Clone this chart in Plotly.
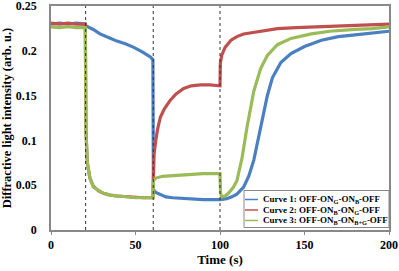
import plotly.graph_objects as go

# ---------------- data ----------------
event_times = [20.5, 60.5, 100]

t1 = [0, 5, 10, 15, 20.3, 20.7, 25, 29, 34, 39, 44, 49, 54, 59, 60.3, 60.6, 62, 65, 68, 72, 80, 90, 100,
      104, 107, 110, 114, 117, 120, 123, 125, 128, 131, 136, 142, 150, 160, 170, 180, 190, 200]
v1 = [0.230, 0.231, 0.230, 0.231, 0.230, 0.228, 0.224, 0.219, 0.215, 0.211, 0.208, 0.204, 0.199, 0.193, 0.190, 0.045, 0.042, 0.039, 0.037, 0.036, 0.035, 0.034, 0.034,
      0.035, 0.037, 0.040, 0.048, 0.060, 0.078, 0.105, 0.125, 0.150, 0.170, 0.187, 0.197, 0.205, 0.212, 0.216, 0.218, 0.220, 0.222]

t2 = [0, 5, 10, 15, 20.3, 20.7, 21.5, 23, 25, 28, 31, 35, 39, 45, 50, 55, 60.3, 60.6, 61, 62, 63, 64.7, 67, 70.6, 74, 78.5, 83, 88.5, 94, 100,
      100.2, 101, 103, 106.5, 110, 114, 120, 127, 134, 145, 160, 175, 190, 200]
v2 = [0.231, 0.230, 0.231, 0.230, 0.230, 0.110, 0.075, 0.058, 0.049, 0.044, 0.041, 0.039, 0.038, 0.037, 0.036, 0.036, 0.036, 0.060, 0.085, 0.100, 0.112, 0.126, 0.135, 0.145, 0.152, 0.158, 0.161, 0.162, 0.162, 0.161,
      0.186, 0.195, 0.204, 0.212, 0.216, 0.219, 0.221, 0.223, 0.225, 0.226, 0.227, 0.228, 0.229, 0.230]

t3 = [0, 5, 10, 15, 20.3, 20.7, 21.5, 23, 25, 28, 31, 35, 39, 45, 50, 55, 60.3, 60.6, 62, 66, 72.7, 80, 90, 100,
      100.3, 101, 103, 105, 108, 110, 113, 116, 120, 124, 128, 134, 142, 154, 165, 180, 190, 200]
v3 = [0.227, 0.226, 0.227, 0.226, 0.226, 0.110, 0.075, 0.058, 0.048, 0.044, 0.041, 0.039, 0.038, 0.037, 0.036, 0.036, 0.036, 0.055, 0.058, 0.060, 0.061, 0.062, 0.063, 0.063,
      0.042, 0.037, 0.038, 0.041, 0.048, 0.055, 0.080, 0.115, 0.155, 0.180, 0.195, 0.207, 0.214, 0.219, 0.222, 0.224, 0.225, 0.227]

names = ["Curve 1: OFF-ON<sub>G</sub>-ON<sub>B</sub>-OFF",
         "Curve 2: OFF-ON<sub>B</sub>-ON<sub>G</sub>-OFF",
         "Curve 3: OFF-ON<sub>B</sub>-ON<sub>B+G</sub>-OFF"]
colors = ["#4a7fc1", "#c0504d", "#9bbb59"]

x_ticks = [0, 50, 100, 150, 200]
y_ticks = [0, 0.05, 0.1, 0.15, 0.2, 0.25]
y_ticktext = ["0", "0.05", "0.1", "0.15", "0.2", "0.25"]

# ---------------- figure ----------------
W, H = 399, 271
ML, MR, MT, MB = 51, 10, 6, 41
PW, PH = W - ML - MR, H - MT - MB
FONT = "Liberation Serif"

fig = go.Figure()
for t, v, c, n in zip([t1, t2, t3], [v1, v2, v3], colors, names):
    fig.add_trace(go.Scatter(x=t, y=v, mode="lines", name=n,
                             line=dict(color=c, width=3.2), showlegend=False))

for et in event_times:
    fig.add_shape(type="line", xref="x", yref="paper", x0=et, x1=et, y0=0, y1=1,
                  line=dict(color="#333333", width=1, dash="3px,3px"), layer="above")

# manual legend (pixel positions converted to paper coords)
def px(xp):
    return (xp - ML) / PW

def py(yp):
    return (H - MB - yp) / PH

fig.add_shape(type="rect", xref="paper", yref="paper",
              x0=px(244), x1=px(389), y0=py(227.5), y1=py(190.5),
              line=dict(color="#888888", width=1), fillcolor="white", layer="above")
rows = [199.5, 210, 220.5]
for yy, c, n in zip(rows, colors, names):
    fig.add_shape(type="line", xref="paper", yref="paper",
                  x0=px(245), x1=px(258), y0=py(yy), y1=py(yy),
                  line=dict(color=c, width=1.5), layer="above")
    fig.add_annotation(xref="paper", yref="paper", x=px(261), y=py(yy),
                       xanchor="left", yanchor="middle", showarrow=False,
                       text="<b>" + n + "</b>",
                       font=dict(family=FONT, size=9, color="black"))

fig.update_layout(
    width=W, height=H,
    margin=dict(l=ML, r=MR, t=MT, b=MB, autoexpand=False),
    paper_bgcolor="white", plot_bgcolor="white",
    font=dict(family=FONT, color="black"),
)
fig.update_xaxes(range=[0, 200.0001], tickvals=x_ticks, ticks="outside", ticklen=3,
                 tickcolor="#888888", showgrid=False, zeroline=False,
                 showline=True, linecolor="#888888", linewidth=1.5, mirror=True,
                 ticklabeloverflow="allow",
                 tickfont=dict(family=FONT, size=12, weight="bold"),
                 title=dict(text="<b>Time (s)</b>", font=dict(family=FONT, size=13), standoff=4))
fig.update_yaxes(range=[0, 0.2502], tickvals=y_ticks, ticktext=y_ticktext, ticks="",
                 ticklabelstandoff=10, showgrid=False, zeroline=False,
                 showline=True, linecolor="#888888", linewidth=1.5, mirror=True,
                 ticklabeloverflow="allow",
                 tickfont=dict(family=FONT, size=12, weight="bold"),
                 title=dict(text="<b>Diffractive light intensity (arb. u.)</b>",
                            font=dict(family=FONT, size=12.5), standoff=6))

fig.write_html("out.html")
